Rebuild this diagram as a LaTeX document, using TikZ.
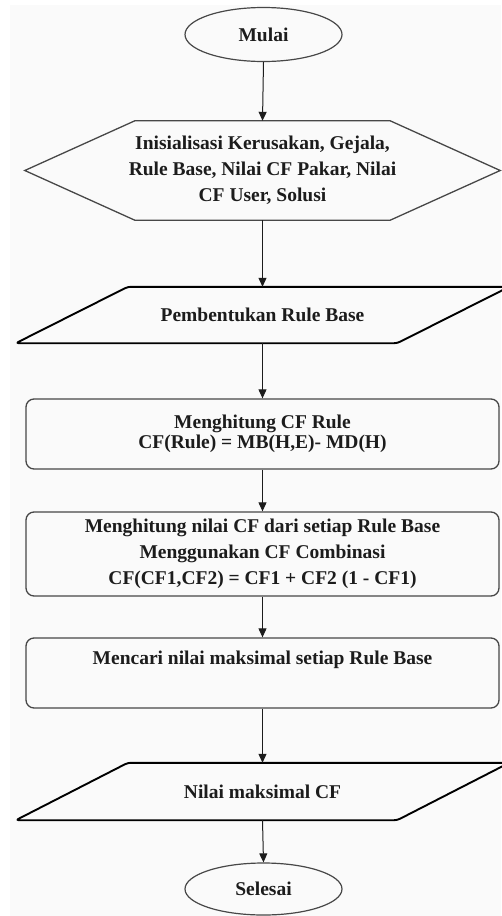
\documentclass[tikz,border=0pt]{standalone}
\usepackage{fontspec}
\setmainfont{Liberation Serif}
\usetikzlibrary{shapes.geometric,arrows.meta}
\definecolor{bg}{HTML}{FAFAFA}
\definecolor{edgec}{HTML}{474747}
\definecolor{ink}{HTML}{1C1C1C}
\begin{document}
\begin{tikzpicture}[x=1pt,y=-1pt,
  txt/.style={text=ink,font=\fontsize{19.5}{26}\selectfont\bfseries,align=center},
  term/.style={txt,ellipse,draw=edgec,line width=1.2pt,minimum width=157pt,minimum height=54pt,inner sep=0pt},
  procbox/.style={txt,rectangle,rounded corners=8pt,draw=edgec,line width=1.3pt,minimum width=473pt,inner sep=0pt},
  ghost/.style={txt,rectangle,draw=none,inner sep=0pt},
  shapeline/.style={draw=edgec,line width=1.3pt},
  ioline/.style={draw=black,line width=1.9pt,rounded corners=3pt,line join=round},
  arr/.style={draw=ink,line width=1pt,-{Triangle[width=8pt,length=9pt]}}
]
\useasboundingbox (0,0) rectangle (501,916);
\fill[white] (0,0) rectangle (501,916);
\fill[bg] (10,5) rectangle (501,916);

\node[term] (mulai) at (263.5,34.5) {Mulai};

\node[ghost,minimum width=475pt,minimum height=99pt] (init) at (262.5,170.5)
  {Inisialisasi Kerusakan, Gejala,\\Rule Base, Nilai CF Pakar, Nilai\\CF User, Solusi};
\draw[shapeline] (init.west) -- ([xshift=110pt]init.north west) -- ([xshift=-110pt]init.north east)
  -- (init.east) -- ([xshift=-110pt]init.south east) -- ([xshift=110pt]init.south west) -- cycle;

\node[ghost,minimum width=493pt,minimum height=56pt] (pemb) at (262.5,315) {Pembentukan Rule Base};
\draw[ioline] (pemb.south west) -- ([xshift=112pt]pemb.north west) -- (pemb.north east)
  -- ([xshift=-112pt]pemb.south east) -- cycle;

\node[procbox,minimum height=70pt,font=\fontsize{19.5}{20.5}\selectfont\bfseries] (cfrule) at (262.5,434)
  {Menghitung CF Rule\\CF(Rule) = MB(H,E)- MD(H)};

\node[procbox,minimum height=84pt] (comb) at (262.5,554)
  {Menghitung nilai CF dari setiap Rule Base\\Menggunakan CF Combinasi\\CF(CF1,CF2) = CF1 + CF2 (1 - CF1)};

\node[procbox,minimum height=70pt,font=\fontsize{19.5}{24}\selectfont\bfseries] (maks) at (262.5,673)
  {Mencari nilai maksimal setiap Rule Base\\\strut};

\node[ghost,minimum width=493pt,minimum height=57pt] (nilai) at (262.5,791.5) {Nilai maksimal CF};
\draw[ioline] (nilai.south west) -- ([xshift=112pt]nilai.north west) -- (nilai.north east)
  -- ([xshift=-112pt]nilai.south east) -- cycle;

\node[term,minimum height=52pt] (selesai) at (263.5,889) {Selesai};

\draw[arr] (mulai.south) -- (init.north);
\draw[arr] (init.south) -- (pemb.north);
\draw[arr] (pemb.south) -- (cfrule.north);
\draw[arr] (cfrule.south) -- (comb.north);
\draw[arr] (comb.south) -- (maks.north);
\draw[arr] (maks.south) -- (nilai.north);
\draw[arr] (nilai.south) -- (selesai.north);
\end{tikzpicture}
\end{document}
